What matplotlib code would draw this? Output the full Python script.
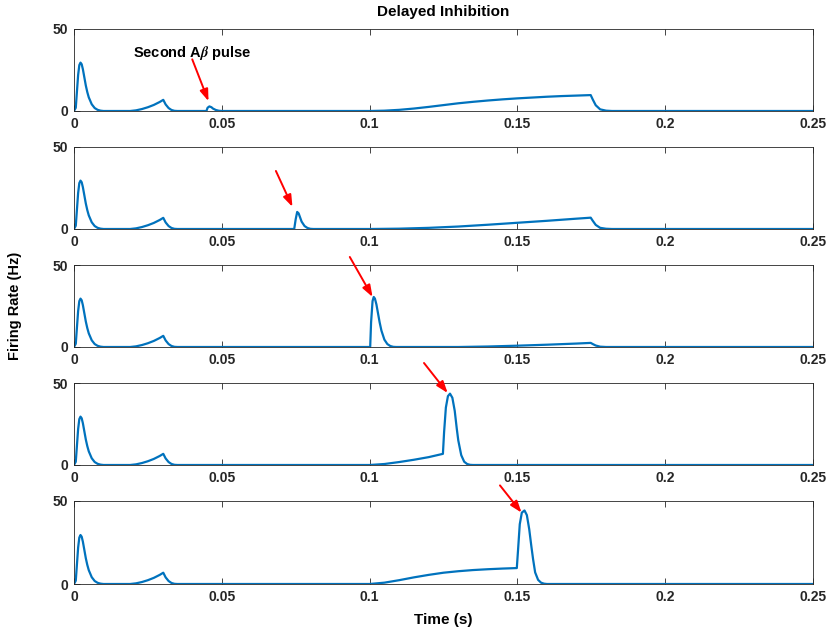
import matplotlib
matplotlib.use("Agg")
import matplotlib.pyplot as plt

plt.rcParams['font.family'] = ['Liberation Sans', 'DejaVu Sans']
plt.rcParams['font.weight'] = 'bold'
plt.rcParams['mathtext.fontset'] = 'stix'

# firing-rate traces, one per delay of the second pulse (time in s, rate in Hz)
# response shared by all runs: first pulse and the ramp ending at 30 ms
t_common = [0, 0.0006, 0.001, 0.0014, 0.0018, 0.0022, 0.0026, 0.003, 0.0035, 0.004,
            0.0045, 0.005, 0.006, 0.007, 0.008, 0.009, 0.010,
            0.019, 0.021, 0.023, 0.025, 0.027, 0.029, 0.0302,
            0.031, 0.032, 0.033, 0.034, 0.035]
r_common = [0, 2, 12, 22, 28, 29.5, 28.5, 25.5, 20.5, 15.5,
            11.5, 8.3, 4.1, 1.8, 0.7, 0.2, 0,
            0, 0.4, 1.2, 2.3, 3.7, 5.5, 6.8,
            4.0, 1.8, 0.6, 0.1, 0]

t_run1 = [0.0448, 0.0452, 0.0458, 0.0465, 0.047, 0.048, 0.049, 0.050,
          0.100, 0.105, 0.110, 0.115, 0.120, 0.125, 0.130, 0.135, 0.140, 0.145,
          0.150, 0.155, 0.160, 0.165, 0.170, 0.1748,
          0.1755, 0.1765, 0.178, 0.180, 0.182, 0.25]
r_run1 = [0, 2.0, 2.8, 2.3, 1.5, 0.6, 0.15, 0,
          0, 0.2, 0.7, 1.5, 2.5, 3.6, 4.7, 5.6, 6.4, 7.1,
          7.7, 8.2, 8.7, 9.1, 9.4, 9.7,
          7.0, 3.5, 1.0, 0.2, 0, 0]

t_run2 = [0.0745, 0.075, 0.0755, 0.076, 0.0765, 0.077, 0.078, 0.079, 0.080, 0.081,
          0.100, 0.110, 0.120, 0.130, 0.140, 0.150, 0.160, 0.170, 0.1748,
          0.1755, 0.1765, 0.178, 0.180, 0.182, 0.25]
r_run2 = [0, 6.0, 10.4, 9.5, 7.0, 4.5, 1.8, 0.6, 0.1, 0,
          0, 0.2, 0.7, 1.5, 2.6, 3.8, 5.0, 6.3, 6.9,
          5.0, 2.5, 0.7, 0.15, 0, 0]

t_run3 = [0.1002, 0.1005, 0.101, 0.1014, 0.1018, 0.1023, 0.1028, 0.1034, 0.104,
          0.105, 0.106, 0.107, 0.108, 0.109,
          0.130, 0.140, 0.150, 0.160, 0.170, 0.1748,
          0.1755, 0.1765, 0.178, 0.180, 0.25]
r_run3 = [0, 15, 28, 30.5, 29.5, 26, 21, 15, 10,
          4.5, 1.8, 0.6, 0.1, 0,
          0, 0.3, 0.8, 1.4, 2.1, 2.5,
          1.8, 0.9, 0.2, 0, 0]

t_run4 = [0.100, 0.105, 0.110, 0.115, 0.120, 0.1248,
          0.1252, 0.1258, 0.1265, 0.1272, 0.128, 0.1288, 0.1295, 0.130,
          0.131, 0.132, 0.133, 0.134, 0.135, 0.25]
r_run4 = [0, 0.6, 1.8, 3.2, 4.8, 6.8,
          20, 35, 42, 43.5, 41, 33, 22, 15,
          6.0, 2.0, 0.6, 0.1, 0, 0]

t_run5 = [0.100, 0.105, 0.110, 0.115, 0.120, 0.125, 0.130, 0.135, 0.140, 0.145, 0.1498,
          0.1502, 0.1508, 0.1515, 0.1524, 0.1532, 0.154, 0.1547, 0.1553,
          0.156, 0.157, 0.158, 0.159, 0.160, 0.25]
r_run5 = [0, 0.8, 2.3, 4.0, 5.5, 6.8, 7.7, 8.4, 8.9, 9.3, 9.6,
          20, 36, 43, 44.3, 41.5, 33, 23, 15,
          7.0, 2.5, 0.8, 0.2, 0, 0]

runs_t = [t_run1, t_run2, t_run3, t_run4, t_run5]
runs_r = [r_run1, r_run2, r_run3, r_run4, r_run5]

# arrow tails and tips pointing at the second pulse in each run
arrow_tail = [(0.0400, 31.5), (0.0683, 35.4), (0.0933, 54.9), (0.1184, 62.2), (0.1441, 59.4)]
arrow_tip = [(0.0455, 6.0), (0.0739, 13.5), (0.1010, 30.5), (0.1264, 43.9), (0.1514, 43.0)]

xticks = [0, 0.05, 0.1, 0.15, 0.2, 0.25]
xtick_labels = ['0', '0.05', '0.1', '0.15', '0.2', '0.25']
yticks = [0, 50]
ytick_labels = ['0', '50']

blue = '#0072BD'
axis_col = '#262626'

fig = plt.figure(figsize=(8.3, 6.31), dpi=100)
W, H = 830.0, 631.0
left, right = 74, 813
tops = [29, 147, 265, 383, 501]
bottoms = [111, 229, 347, 465, 584]

axes = []
for i in range(5):
    ax = fig.add_axes([left / W, 1 - bottoms[i] / H, (right - left) / W, (bottoms[i] - tops[i]) / H])
    t = t_common + runs_t[i]
    r = r_common + runs_r[i]
    order = sorted(range(len(t)), key=lambda k: t[k])
    ax.plot([t[k] for k in order], [r[k] for k in order], color=blue, lw=1.6, solid_joinstyle='round')
    ax.set_xlim(0, 0.25)
    ax.set_ylim(0, 50)
    ax.set_xticks(xticks)
    ax.set_xticklabels(xtick_labels)
    ax.set_yticks(yticks)
    ax.set_yticklabels(ytick_labels)
    ax.tick_params(direction='in', length=4, width=0.6, colors=axis_col, labelsize=10,
                   top=True, right=False, pad=4)
    for lab in ax.get_xticklabels() + ax.get_yticklabels():
        lab.set_fontweight('bold')
    for s in ax.spines.values():
        s.set_color(axis_col)
        s.set_linewidth(0.6)
    ax.annotate('', xy=arrow_tip[i], xytext=arrow_tail[i], annotation_clip=False,
                arrowprops=dict(arrowstyle='-|>,head_length=0.7,head_width=0.25',
                                color='#FF0000', lw=1.4, shrinkA=0, shrinkB=0))
    axes.append(ax)

axes[0].text(0.0401, 35.4, r'Second A$\beta$ pulse', ha='center', va='center',
             fontsize=10.5, fontweight='bold')

cx = (left + right) / 2 / W
fig.text(cx, 1 - 12 / H, 'Delayed Inhibition', ha='center', va='center', fontsize=11, fontweight='bold')
fig.text(cx, 1 - 620 / H, 'Time (s)', ha='center', va='center', fontsize=11, fontweight='bold')
fig.text(15 / W, 1 - 306 / H, 'Firing Rate (Hz)', ha='center', va='center', rotation=90,
         fontsize=10.5, fontweight='bold')

fig.savefig('out.png', dpi=100)
